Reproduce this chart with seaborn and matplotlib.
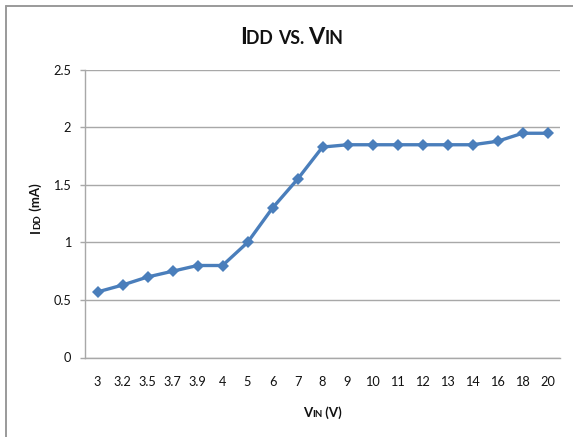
import matplotlib
matplotlib.use("Agg")
import matplotlib.pyplot as plt
import matplotlib.transforms as mtransforms
from matplotlib.lines import Line2D
import seaborn as sns
import pandas as pd

# ---- data ----
vin_labels = ["3", "3.2", "3.5", "3.7", "3.9", "4", "5", "6", "7", "8",
              "9", "10", "11", "12", "13", "14", "16", "18", "20"]
idd_ma = [0.57, 0.63, 0.70, 0.75, 0.80, 0.80, 1.00, 1.30, 1.55, 1.83,
          1.85, 1.85, 1.85, 1.85, 1.85, 1.85, 1.88, 1.95, 1.95]
y_ticks = [0, 0.5, 1, 1.5, 2, 2.5]
y_tick_labels = ["0", "0.5", "1", "1.5", "2", "2.5"]

sns.set_theme(style="white")
plt.rcParams["font.family"] = ["Lato", "DejaVu Sans"]

W, H = 573, 437
fig = plt.figure(figsize=(W / 100, H / 100), dpi=100)
fig.patch.set_facecolor("white")

ax_left, ax_right, ax_top, ax_bottom = 85, 560, 70, 357.5
ax = fig.add_axes([ax_left / W, 1 - ax_bottom / H,
                   (ax_right - ax_left) / W, (ax_bottom - ax_top) / H])

df = pd.DataFrame({"VIN": vin_labels, "IDD": idd_ma})
sns.pointplot(data=df, x="VIN", y="IDD", order=vin_labels, color="#4A7EBB",
              markers="D", linestyles="-", errorbar=None, ax=ax,
              markersize=6.3, markeredgewidth=0, linewidth=2.4)

grid_c = "#a8a8a8"
ax.set_ylim(0, 2.5)
ax.set_xlim(-0.5, len(vin_labels) - 0.5)
ax.set_yticks(y_ticks, y_tick_labels)
ax.yaxis.grid(True, color=grid_c, linewidth=1.0)
ax.xaxis.grid(False)
ax.set_axisbelow(True)
for s in ["top", "right"]:
    ax.spines[s].set_visible(False)
for s in ["left", "bottom"]:
    ax.spines[s].set_color(grid_c)
    ax.spines[s].set_linewidth(1.0)
ax.tick_params(axis="y", length=3.6, width=1.0, color=grid_c, pad=6.5,
               labelsize=9.2, labelcolor="#111111", left=True)
ax.tick_params(axis="x", length=0, pad=13, labelsize=9.2, labelcolor="#111111")
ax.set_xlabel("")
ax.set_ylabel("")

# ---- rich text helper (small-caps style pieces) ----
pix = mtransforms.IdentityTransform()
renderer = fig.canvas.get_renderer()


def rich_text(parts, center, baseline, rotation=0, color="#111111"):
    texts, advs = [], []
    for s, size in parts:
        t = fig.text(0, 0, s, fontsize=size, fontweight="bold", color=color,
                     ha="left", va="baseline", transform=pix)
        advs.append(t.get_window_extent(renderer).width)
        texts.append(t)
    total = sum(advs)
    pos = center - total / 2
    for t, a in zip(texts, advs):
        if rotation == 0:
            t.set_position((pos, H - baseline))
        else:
            t.set_rotation(90)
            t.set_rotation_mode("anchor")
            t.set_position((baseline, pos))
        pos += a
    return texts


# title
rich_text([("I", 16.8), ("DD ", 12.8), ("VS. ", 12.8), ("V", 16.8), ("IN", 12.8)],
          center=291.5, baseline=43.5)
# x label
rich_text([("V", 9.5), ("IN", 7.0), (" (V)", 9.5)], center=322.5, baseline=417)
# y label (rotated, reading bottom to top); center measured from bottom
rich_text([("I", 9.5), ("DD", 7.0), (" (mA)", 9.5)], center=H - 208.5,
          baseline=40, rotation=90)

# chart frame (cropped, only top and left edges visible)
frame_c = "#9a9a9a"
fig.add_artist(Line2D([6, 6], [0, H - 6], transform=pix, color=frame_c, lw=1.4))
fig.add_artist(Line2D([6, W], [H - 6, H - 6], transform=pix, color=frame_c, lw=1.4))

fig.savefig("out.png", dpi=100)
